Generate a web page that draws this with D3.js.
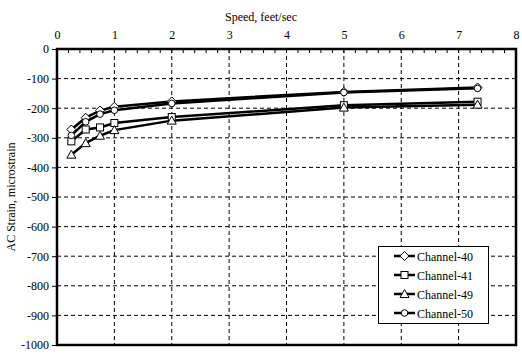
<!DOCTYPE html>
<html><head><meta charset="utf-8">
<script src="https://cdn.jsdelivr.net/npm/d3@7"></script>
<style>body{margin:0;background:#fff}</style>
</head><body><svg id="c" width="522" height="359" font-family="Liberation Serif"></svg>
<script>
const speeds = [0.25, 0.5, 0.75, 1.0, 2.0, 5.0, 7.33];
const ch40 = [-272, -232, -208, -195, -177, -145, -130];
const ch41 = [-312, -272, -265, -250, -230, -190, -178];
const ch49 = [-357, -318, -293, -274, -242, -198, -188];
const ch50 = [-292, -246, -220, -207, -184, -147, -133];
const seriesNames = ["Channel-40", "Channel-41", "Channel-49", "Channel-50"];
const seriesShapes = ["diamond", "square", "triangle", "circle"];
const xTicks = [0,1,2,3,4,5,6,7,8];
const yTicks = [0,-100,-200,-300,-400,-500,-600,-700,-800,-900,-1000];
const seriesData = [ch40, ch41, ch49, ch50];

const FONT = "Liberation Serif";
const svg = d3.select("#c");
const L=57, R=516, T=49, B=345;
const x = d3.scaleLinear().domain([0,8]).range([L,R]);
const y = d3.scaleLinear().domain([0,-1000]).range([T,B]);
const fmt = d => String(d);

// grid
const g = svg.append("g");
g.selectAll(".vg").data(xTicks.slice(1,-1)).join("line")
  .attr("x1",d=>x(d)).attr("x2",d=>x(d)).attr("y1",T).attr("y2",B)
  .attr("stroke","#000").attr("stroke-width",1).attr("stroke-dasharray","4,3");
g.selectAll(".hg").data(yTicks.slice(1,-1)).join("line")
  .attr("x1",L).attr("x2",R).attr("y1",d=>y(d)).attr("y2",d=>y(d))
  .attr("stroke","#000").attr("stroke-width",1).attr("stroke-dasharray","4,3");

// axes
const xa = svg.append("g").attr("transform",`translate(0,${T})`)
  .call(d3.axisTop(x).tickValues(xTicks).tickFormat(fmt).tickSize(0).tickPadding(10));
xa.attr("font-family",FONT).attr("font-size",12);
xa.selectAll("text").attr("font-family",FONT);
xa.select(".domain").remove();
const minor = d3.range(0,8.001,0.2);
svg.append("g").selectAll("line").data(minor).join("line")
  .attr("x1",d=>x(d)).attr("x2",d=>x(d)).attr("y1",T).attr("y2",T+4)
  .attr("stroke","#000").attr("stroke-width",1);

const ya = svg.append("g").attr("transform",`translate(${L},0)`)
  .call(d3.axisLeft(y).tickValues(yTicks).tickFormat(fmt).tickSize(5).tickPadding(3));
ya.attr("font-family",FONT).attr("font-size",12);
ya.selectAll("text").attr("font-family",FONT);
ya.select(".domain").remove();
ya.selectAll("line").attr("stroke-width",1);

svg.append("rect").attr("x",L).attr("y",T).attr("width",R-L).attr("height",B-T)
  .attr("fill","none").attr("stroke","#000").attr("stroke-width",2.5);

svg.append("text").attr("x",261).attr("y",21).attr("text-anchor","middle").attr("font-family",FONT).attr("font-size",12).text("Speed, feet/sec");
svg.append("text").attr("transform",`translate(15,${(T+B)/2}) rotate(-90)`).attr("text-anchor","middle").attr("font-family",FONT).attr("font-size",12).text("AC Strain, microstrain");

function marker(sel, shape, cx, cy){
  if(shape==="circle") sel.append("circle").attr("cx",cx).attr("cy",cy).attr("r",3.3);
  else if(shape==="square") sel.append("rect").attr("x",cx-3.5).attr("y",cy-3.5).attr("width",7).attr("height",7);
  else if(shape==="diamond") sel.append("path").attr("d",`M${cx},${cy-4.5}L${cx+4.5},${cy}L${cx},${cy+4.5}L${cx-4.5},${cy}Z`);
  else sel.append("path").attr("d",`M${cx},${cy-4.5}L${cx+4.5},${cy+3.5}L${cx-4.5},${cy+3.5}Z`);
}

const line = d3.line().x(d=>x(d[0])).y(d=>y(d[1]));
seriesData.forEach((vals,i)=>{
  const pts = speeds.map((s,j)=>[s,vals[j]]);
  svg.append("path").attr("d",line(pts)).attr("fill","none").attr("stroke","#000").attr("stroke-width",2.5);
});
seriesData.forEach((vals,i)=>{
  const mg = svg.append("g").attr("fill","#fff").attr("stroke","#000").attr("stroke-width",1);
  speeds.forEach((s,j)=>marker(mg, seriesShapes[i], x(s), y(vals[j])));
});

// legend
const lg = svg.append("g");
lg.append("rect").attr("x",378.5).attr("y",246.5).attr("width",110).attr("height",77)
  .attr("fill","#fff").attr("stroke","#000").attr("stroke-width",1);
seriesNames.forEach((n,i)=>{
  const ly = 256 + i*19;
  lg.append("line").attr("x1",394).attr("x2",415).attr("y1",ly).attr("y2",ly).attr("stroke","#000").attr("stroke-width",2.5);
  const mg = lg.append("g").attr("fill","#fff").attr("stroke","#000").attr("stroke-width",1);
  marker(mg, seriesShapes[i], 404.5, ly);
  lg.append("text").attr("x",417).attr("y",ly+4.5).attr("font-family",FONT).attr("font-size",12).text(n);
});
</script></body></html>
